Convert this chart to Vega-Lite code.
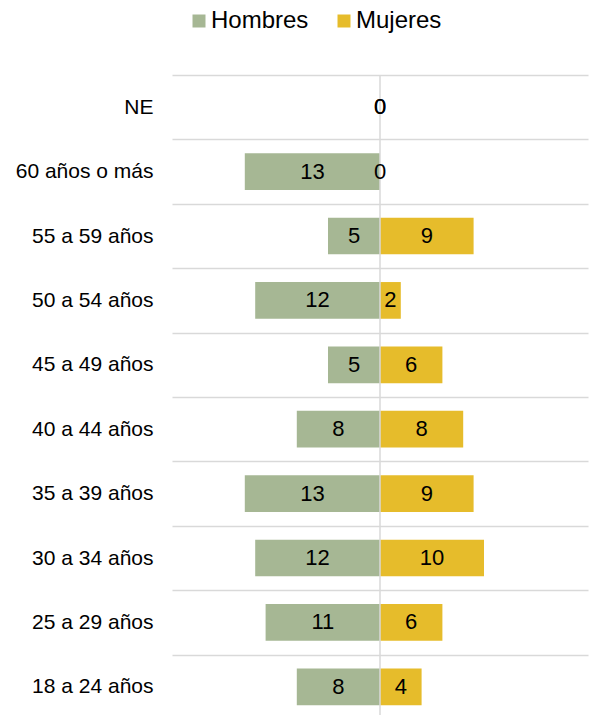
{
  "$schema": "https://vega.github.io/schema/vega-lite/v6.json",
  "width": 416,
  "height": 644,
  "autosize": "none",
  "padding": {"left": 172, "top": 75, "right": 2, "bottom": 0},
  "background": "white",
  "config": {"view": {"stroke": null}, "font": "Liberation Sans"},
  "data": {"values": [
    {"grupo": "NE", "sexo": "Hombres", "valor": 0},
    {"grupo": "NE", "sexo": "Mujeres", "valor": 0},
    {"grupo": "60 años o más", "sexo": "Hombres", "valor": 13},
    {"grupo": "60 años o más", "sexo": "Mujeres", "valor": 0},
    {"grupo": "55 a 59 años", "sexo": "Hombres", "valor": 5},
    {"grupo": "55 a 59 años", "sexo": "Mujeres", "valor": 9},
    {"grupo": "50 a 54 años", "sexo": "Hombres", "valor": 12},
    {"grupo": "50 a 54 años", "sexo": "Mujeres", "valor": 2},
    {"grupo": "45 a 49 años", "sexo": "Hombres", "valor": 5},
    {"grupo": "45 a 49 años", "sexo": "Mujeres", "valor": 6},
    {"grupo": "40 a 44 años", "sexo": "Hombres", "valor": 8},
    {"grupo": "40 a 44 años", "sexo": "Mujeres", "valor": 8},
    {"grupo": "35 a 39 años", "sexo": "Hombres", "valor": 13},
    {"grupo": "35 a 39 años", "sexo": "Mujeres", "valor": 9},
    {"grupo": "30 a 34 años", "sexo": "Hombres", "valor": 12},
    {"grupo": "30 a 34 años", "sexo": "Mujeres", "valor": 10},
    {"grupo": "25 a 29 años", "sexo": "Hombres", "valor": 11},
    {"grupo": "25 a 29 años", "sexo": "Mujeres", "valor": 6},
    {"grupo": "18 a 24 años", "sexo": "Hombres", "valor": 8},
    {"grupo": "18 a 24 años", "sexo": "Mujeres", "valor": 4}
  ]},
  "transform": [
    {"calculate": "datum.sexo == 'Hombres' ? -datum.valor : datum.valor", "as": "pos"},
    {"calculate": "datum.pos / 2", "as": "mid"}
  ],
  "layer": [
    {
      "mark": {"type": "bar", "height": {"band": 0.57}},
      "encoding": {
        "y": {
          "field": "grupo", "type": "nominal",
          "sort": ["NE", "60 años o más", "55 a 59 años", "50 a 54 años", "45 a 49 años", "40 a 44 años", "35 a 39 años", "30 a 34 años", "25 a 29 años", "18 a 24 años"],
          "scale": {"paddingInner": 0, "paddingOuter": 0},
          "axis": {"title": null, "ticks": false, "domain": false, "grid": true, "tickBand": "extent", "gridColor": "#d9d9d9", "gridWidth": 1.5, "labelFontSize": 21, "labelColor": "#000000", "labelPadding": 19, "labelFont": "Liberation Sans"}
        },
        "x": {"field": "pos", "type": "quantitative", "scale": {"domain": [-20, 20]}, "axis": null},
        "color": {
          "field": "sexo", "type": "nominal",
          "scale": {"domain": ["Hombres", "Mujeres"], "range": ["#a6b794", "#e6bc2b"]},
          "legend": {"title": null, "orient": "none", "direction": "horizontal", "legendX": 15, "legendY": -66, "symbolType": "square", "symbolSize": 169, "symbolStrokeWidth": 0, "labelFontSize": 24, "labelColor": "#000000", "labelOffset": 0, "columnPadding": 23, "labelFont": "Liberation Sans"}
        }
      }
    },
    {
      "data": {"values": [{"z": 0}]},
      "mark": {"type": "rule", "color": "#d9d9d9", "strokeWidth": 1.5},
      "encoding": {"x": {"field": "z", "type": "quantitative"}}
    },
    {
      "mark": {"type": "text", "fontSize": 22, "color": "#000000", "font": "Liberation Sans"},
      "encoding": {
        "y": {"field": "grupo", "type": "nominal", "sort": ["NE", "60 años o más", "55 a 59 años", "50 a 54 años", "45 a 49 años", "40 a 44 años", "35 a 39 años", "30 a 34 años", "25 a 29 años", "18 a 24 años"]},
        "x": {"field": "mid", "type": "quantitative"},
        "text": {"field": "valor", "type": "quantitative"}
      }
    }
  ]
}
